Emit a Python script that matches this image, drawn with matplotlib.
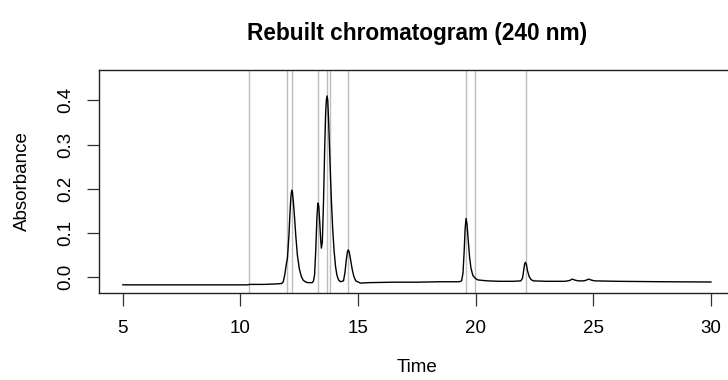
import matplotlib
matplotlib.use("Agg")
import matplotlib.pyplot as plt

plt.rcParams['font.family'] = ['Liberation Sans', 'DejaVu Sans']

# retention time (min) and absorbance
time = [5.0, 7.0, 9.0, 10.3, 10.4, 11.0, 11.5, 11.75, 11.82, 11.88, 11.95, 12.0,
        12.06, 12.12, 12.15, 12.18, 12.21, 12.25, 12.3, 12.35, 12.42, 12.5,
        12.58, 12.66, 12.75, 12.85, 13.05, 13.1, 13.15, 13.2, 13.25, 13.28, 13.3,
        13.33, 13.37, 13.41, 13.44, 13.48, 13.53, 13.58, 13.62, 13.65, 13.68,
        13.71, 13.75, 13.8, 13.86, 13.92, 13.98, 14.04, 14.1, 14.17, 14.25,
        14.38, 14.44, 14.5, 14.55, 14.58, 14.62, 14.68, 14.75, 14.82, 14.9,
        15.1, 15.5, 16.5, 17.5, 18.5, 19.3, 19.4, 19.46, 19.51, 19.55, 19.59,
        19.63, 19.68, 19.74, 19.8, 19.88, 20.0, 20.1, 20.5, 21.0, 21.6, 21.92,
        21.99, 22.05, 22.08, 22.11, 22.15, 22.2, 22.27, 22.35, 22.45, 23.0, 23.8,
        24.0, 24.1, 24.2, 24.35, 24.6, 24.72, 24.8, 24.9, 25.05, 26.0, 28.0, 30.0]
absorbance = [-0.017, -0.017, -0.017, -0.017, -0.016, -0.016, -0.015, -0.014,
              -0.010, 0.005, 0.030, 0.045, 0.095, 0.160, 0.185, 0.197, 0.192,
              0.170, 0.135, 0.095, 0.050, 0.020, 0.003, -0.006, -0.010, -0.012,
              -0.012, -0.009, 0.005, 0.060, 0.135, 0.160, 0.168, 0.160, 0.125,
              0.085, 0.066, 0.080, 0.170, 0.290, 0.370, 0.400, 0.410, 0.400,
              0.350, 0.270, 0.180, 0.110, 0.060, 0.025, 0.005, -0.006, -0.010,
              -0.008, 0.010, 0.040, 0.058, 0.062, 0.058, 0.040, 0.018, 0.002,
              -0.008, -0.013, -0.012, -0.011, -0.011, -0.010, -0.010, -0.008,
              0.010, 0.060, 0.110, 0.133, 0.120, 0.085, 0.045, 0.020, 0.004,
              -0.003, -0.006, -0.008, -0.009, -0.009, -0.008, -0.002, 0.020,
              0.030, 0.034, 0.030, 0.015, 0.002, -0.005, -0.008, -0.009, -0.009,
              -0.007, -0.004, -0.006, -0.008, -0.008, -0.006, -0.004, -0.006,
              -0.008, -0.009, -0.010, -0.0106]

# peak boundary markers
boundaries = [10.37, 11.98, 12.21, 13.30, 13.67, 13.80, 14.58, 19.60, 19.96, 22.13]

xticks = [5, 10, 15, 20, 25, 30]
yticks = [0.0, 0.1, 0.2, 0.3, 0.4]

W, H = 728, 380
fig = plt.figure(figsize=(W / 100, H / 100), dpi=100)
left, right, top, bottom = 99.3, 734.5, 70, 292.5
ax = fig.add_axes([left / W, 1 - bottom / H, (right - left) / W, (bottom - top) / H])

for b in boundaries:
    ax.axvline(b, color='#bebebe', lw=1.0, zorder=1)
ax.plot(time, absorbance, color='black', lw=1.0, zorder=2)

ax.set_xlim(4, 31)
ax.set_ylim(-0.0343, 0.4685)
ax.set_xticks(xticks)
ax.set_xticklabels([str(t) for t in xticks])
ax.set_yticks(yticks)
ax.set_yticklabels(['%.1f' % t for t in yticks], rotation=90, va='center')
ax.tick_params(length=9, width=0.9, labelsize=13.5, color='#333333')
ax.tick_params(axis='x', pad=11)
ax.tick_params(axis='y', pad=9)
for s in ax.spines.values():
    s.set_linewidth(1.0)
    s.set_color('#222222')

fig.text(22 / W, 1 - 181 / H, 'Absorbance', rotation=90, fontsize=13.5,
         ha='center', va='center')
fig.text(417 / W, 1 - 367 / H, 'Time', fontsize=13.5, ha='center', va='center')
fig.text(417 / W, 1 - 40 / H, 'Rebuilt chromatogram (240 nm)', fontsize=16.3,
         fontweight='bold', ha='center', va='baseline')

fig.savefig('out.png', dpi=100)
